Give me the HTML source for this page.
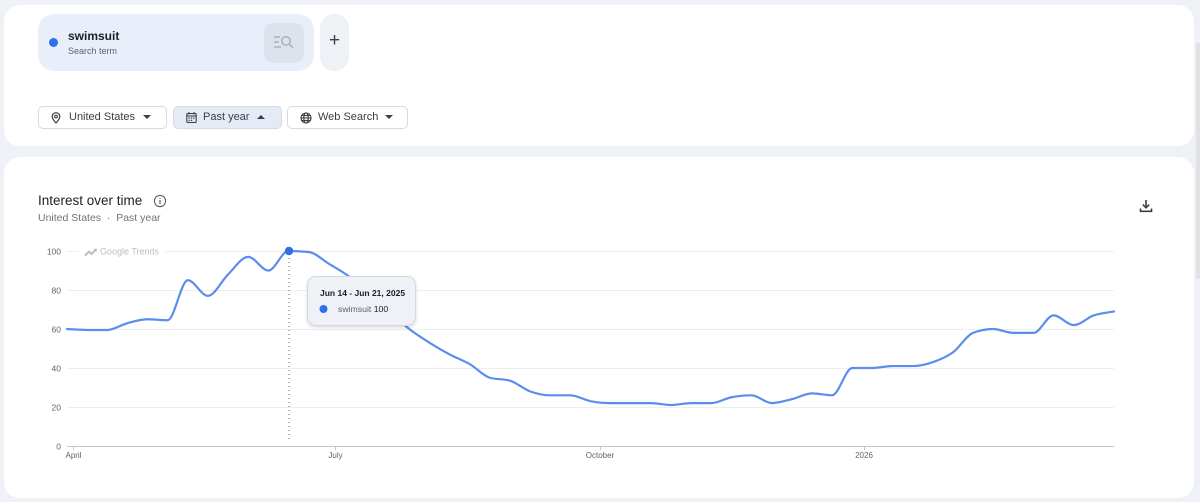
<!DOCTYPE html>
<html><head><meta charset="utf-8"><style>
*{margin:0;padding:0;box-sizing:border-box}
html,body{width:1200px;height:502px;overflow:hidden;background:#eef2f7;font-family:"Liberation Sans",Arial,sans-serif;color:#202124}
.abs{position:absolute}
.card{position:absolute;background:#fff;border-radius:16px}
.btn{position:absolute;top:106px;height:23px;border:1px solid #d6dae0;border-radius:5px;background:#fff;font-size:11px;color:#3c4043;line-height:21px}
.btn span{position:absolute;top:0}
</style></head><body>
<div class="card" style="left:4px;top:5px;width:1190px;height:141px"></div>
<div class="card" style="left:4px;top:157px;width:1190px;height:341px"></div>
<!-- scrollbar -->
<div class="abs" style="left:1196px;top:43px;width:4px;height:236px;background:#dfe1e5;border-radius:2px"></div>

<!-- search chip -->
<div class="abs" style="left:38px;top:14px;width:276px;height:57px;background:#e8effb;border-radius:16px"></div>
<div class="abs" style="left:49px;top:38px;width:9px;height:9px;border-radius:50%;background:#2f6fe8"></div>
<div class="abs" style="left:68px;top:29px;font-size:12px;font-weight:bold;color:#202124">swimsuit</div>
<div class="abs" style="left:68px;top:46px;font-size:9px;color:#5f6368">Search term</div>
<div class="abs" style="left:264px;top:23px;width:40px;height:40px;background:#dde3ec;border-radius:9px"></div>
<svg class="abs" style="left:272px;top:33px" width="24" height="20" viewBox="0 0 24 20">
<g stroke="#a9b1bd" stroke-width="1.5" fill="none"><line x1="2" y1="4" x2="8" y2="4"/><line x1="2" y1="9" x2="7" y2="9"/><line x1="2" y1="14" x2="9" y2="14"/><circle cx="14" cy="8" r="4.2"/><line x1="17" y1="11" x2="21" y2="15"/></g></svg>
<div class="abs" style="left:320px;top:14px;width:29px;height:57px;background:#eef1f6;border-radius:14px"></div>
<div class="abs" style="left:327px;top:30px;width:15px;text-align:center;font-size:19px;color:#3c4043;line-height:22px">+</div>

<!-- filter buttons -->
<div class="btn" style="left:38px;width:129px"><svg class="abs" style="left:12px;top:5px" width="10" height="12" viewBox="0 0 10 12"><path d="M5 11 C5 11 1.2 6.8 1.2 4.5 A3.8 3.8 0 0 1 8.8 4.5 C8.8 6.8 5 11 5 11Z" fill="none" stroke="#3c4043" stroke-width="1.2"/><circle cx="5" cy="4.5" r="1.3" fill="none" stroke="#3c4043" stroke-width="1.1"/></svg><span style="left:30px">United States</span><svg class="abs" style="left:104px;top:8px" width="8" height="5"><path d="M0 0 L8 0 L4 4Z" fill="#3c4043"/></svg></div>
<div class="btn" style="left:173px;width:109px;background:#e4ebf6;border-color:#d4dbe6"><svg class="abs" style="left:12px;top:5px" width="11" height="11" viewBox="0 0 11 11"><rect x="0.8" y="1.5" width="9.4" height="9" rx="1" fill="none" stroke="#3c4043" stroke-width="1.1"/><line x1="0.8" y1="4" x2="10.2" y2="4" stroke="#3c4043" stroke-width="1.1"/><line x1="3" y1="0" x2="3" y2="2.5" stroke="#3c4043"/><line x1="8" y1="0" x2="8" y2="2.5" stroke="#3c4043"/><g fill="#3c4043"><rect x="2.5" y="5.5" width="1.3" height="1.3"/><rect x="4.9" y="5.5" width="1.3" height="1.3"/><rect x="7.3" y="5.5" width="1.3" height="1.3"/><rect x="2.5" y="7.8" width="1.3" height="1.3"/><rect x="4.9" y="7.8" width="1.3" height="1.3"/></g></svg><span style="left:29px">Past year</span><svg class="abs" style="left:83px;top:8px" width="8" height="5"><path d="M0 4 L8 4 L4 0Z" fill="#3c4043"/></svg></div>
<div class="btn" style="left:287px;width:121px"><svg class="abs" style="left:12px;top:5px" width="12" height="12" viewBox="0 0 12 12"><g fill="none" stroke="#3c4043" stroke-width="1.1"><circle cx="6" cy="6" r="5"/><ellipse cx="6" cy="6" rx="2.2" ry="5"/><line x1="1" y1="6" x2="11" y2="6"/><line x1="1.8" y1="3.5" x2="10.2" y2="3.5"/><line x1="1.8" y1="8.5" x2="10.2" y2="8.5"/></g></svg><span style="left:30px">Web Search</span><svg class="abs" style="left:97px;top:8px" width="8" height="5"><path d="M0 0 L8 0 L4 4Z" fill="#3c4043"/></svg></div>

<!-- chart header -->
<div class="abs" style="left:38px;top:193px;font-size:13.5px;color:#202124">Interest over time</div>
<svg class="abs" style="left:153px;top:194px" width="14" height="14" viewBox="0 0 14 14"><circle cx="7" cy="7" r="5.6" fill="none" stroke="#5f6368" stroke-width="1.1"/><rect x="6.4" y="6" width="1.2" height="4" fill="#5f6368"/><rect x="6.4" y="3.8" width="1.2" height="1.2" fill="#5f6368"/></svg>
<div class="abs" style="left:38px;top:212px;font-size:10.5px;color:#70757a">United States &nbsp;·&nbsp; Past year</div>
<svg class="abs" style="left:1139px;top:199px" width="14" height="14" viewBox="0 0 14 14"><g fill="none" stroke="#3c4043" stroke-width="1.6"><line x1="7" y1="1" x2="7" y2="8.5"/><path d="M3.8 5.6 L7 8.8 L10.2 5.6"/><path d="M1.5 9.5 V12.3 H12.5 V9.5"/></g></svg>

<!-- chart -->
<svg class="abs" style="left:0;top:0" width="1200" height="502" id="ch">
<g stroke="#eceef1" stroke-width="1">
<line x1="67" y1="251.5" x2="1114" y2="251.5"/>
<line x1="67" y1="290.5" x2="1114" y2="290.5"/>
<line x1="67" y1="329.5" x2="1114" y2="329.5"/>
<line x1="67" y1="368.5" x2="1114" y2="368.5"/>
<line x1="67" y1="407.5" x2="1114" y2="407.5"/>
</g>
<line x1="67" y1="446.5" x2="1114" y2="446.5" stroke="#c4c6ca" stroke-width="1"/>
<g stroke="#c4c6ca"><line x1="73.5" y1="446" x2="73.5" y2="450"/><line x1="335.5" y1="446" x2="335.5" y2="450"/><line x1="600.5" y1="446" x2="600.5" y2="450"/><line x1="864.5" y1="446" x2="864.5" y2="450"/></g>
<g font-family="Liberation Sans, Arial, sans-serif" font-size="8.5" fill="#5f6368" text-anchor="end">
<text x="61" y="254.5">100</text><text x="61" y="293.5">80</text><text x="61" y="332.5">60</text><text x="61" y="371.5">40</text><text x="61" y="410.5">20</text><text x="61" y="449.5">0</text>
</g>
<g font-family="Liberation Sans, Arial, sans-serif" font-size="8" fill="#5f6368" text-anchor="middle">
<text x="73.5" y="458">April</text><text x="335.5" y="458">July</text><text x="600" y="458">October</text><text x="864" y="458">2026</text>
</g>
<rect x="79" y="244" width="86" height="14" fill="#fff"/>
<path d="M85 255.5 L89 251.5 L91.5 254 L96 249.5" fill="none" stroke="#bdbdbd" stroke-width="2"/>
<path d="M93.5 249 L97 248.5 L96.5 252Z" fill="#bdbdbd"/>
<text x="100" y="254.5" font-family="Liberation Sans, Arial, sans-serif" font-size="9" fill="#bdbdbd">Google Trends</text>
<path id="ln" d="" fill="none" stroke="#5b8def" stroke-width="2.2" stroke-linejoin="round" stroke-linecap="round"/>
<line x1="289" y1="254" x2="289" y2="442" stroke="#5f6368" stroke-width="1" stroke-dasharray="1,3"/>
<circle cx="289" cy="251" r="4.2" fill="#2f6fe8"/>
<defs><filter id="sh" x="-20%" y="-30%" width="140%" height="170%"><feDropShadow dx="0" dy="1.5" stdDeviation="1.5" flood-color="#000" flood-opacity="0.15"/></filter></defs>
<rect x="307.5" y="276.5" width="108" height="49" rx="8" fill="#eef1f6" stroke="#d5d9df" filter="url(#sh)"/>
<text x="320" y="296" font-family="Liberation Sans, Arial, sans-serif" font-size="8.5" font-weight="bold" fill="#202124">Jun 14 - Jun 21, 2025</text>
<circle cx="323.5" cy="309" r="4" fill="#2f6fe8"/>
<text x="338" y="312" font-family="Liberation Sans, Arial, sans-serif" font-size="8.7" fill="#5f6368">swimsuit <tspan fill="#202124">100</tspan></text>
</svg>
<script>
(function(){
var v=[60,59.5,59.5,63,65,64.5,85,77,88,97,90,100,99.5,93.5,87,78,69,60,53,47,42,35,33.5,28,26,26,23,22,22,22,21,22,22,25,26,22,24,27,26,40,40,41,41,43,48,58,60,58,58,67,62,67,69];
var n=v.length,xs=[],ys=[];
for(var i=0;i<n;i++){xs.push(67+i*(1114-67)/(n-1));ys.push(446-v[i]*1.95);}
var d=[],m=[];
for(i=0;i<n-1;i++)d.push((ys[i+1]-ys[i])/(xs[i+1]-xs[i]));
function sg(a){return a<0?-1:1;}
m[0]=d[0];m[n-1]=d[n-2];
for(i=1;i<n-1;i++){var s0=d[i-1],s1=d[i],p=(s0+s1)/2;m[i]=(sg(s0)+sg(s1))*Math.min(Math.abs(s0),Math.abs(s1),0.5*Math.abs(p))||0;}
var s="M"+xs[0].toFixed(2)+","+ys[0].toFixed(2);
for(i=0;i<n-1;i++){var h=(xs[i+1]-xs[i])/3;s+=" C"+(xs[i]+h).toFixed(2)+","+(ys[i]+m[i]*h).toFixed(2)+" "+(xs[i+1]-h).toFixed(2)+","+(ys[i+1]-m[i+1]*h).toFixed(2)+" "+xs[i+1].toFixed(2)+","+ys[i+1].toFixed(2);}
document.getElementById("ln").setAttribute("d",s);
})();
</script>
</body></html>
